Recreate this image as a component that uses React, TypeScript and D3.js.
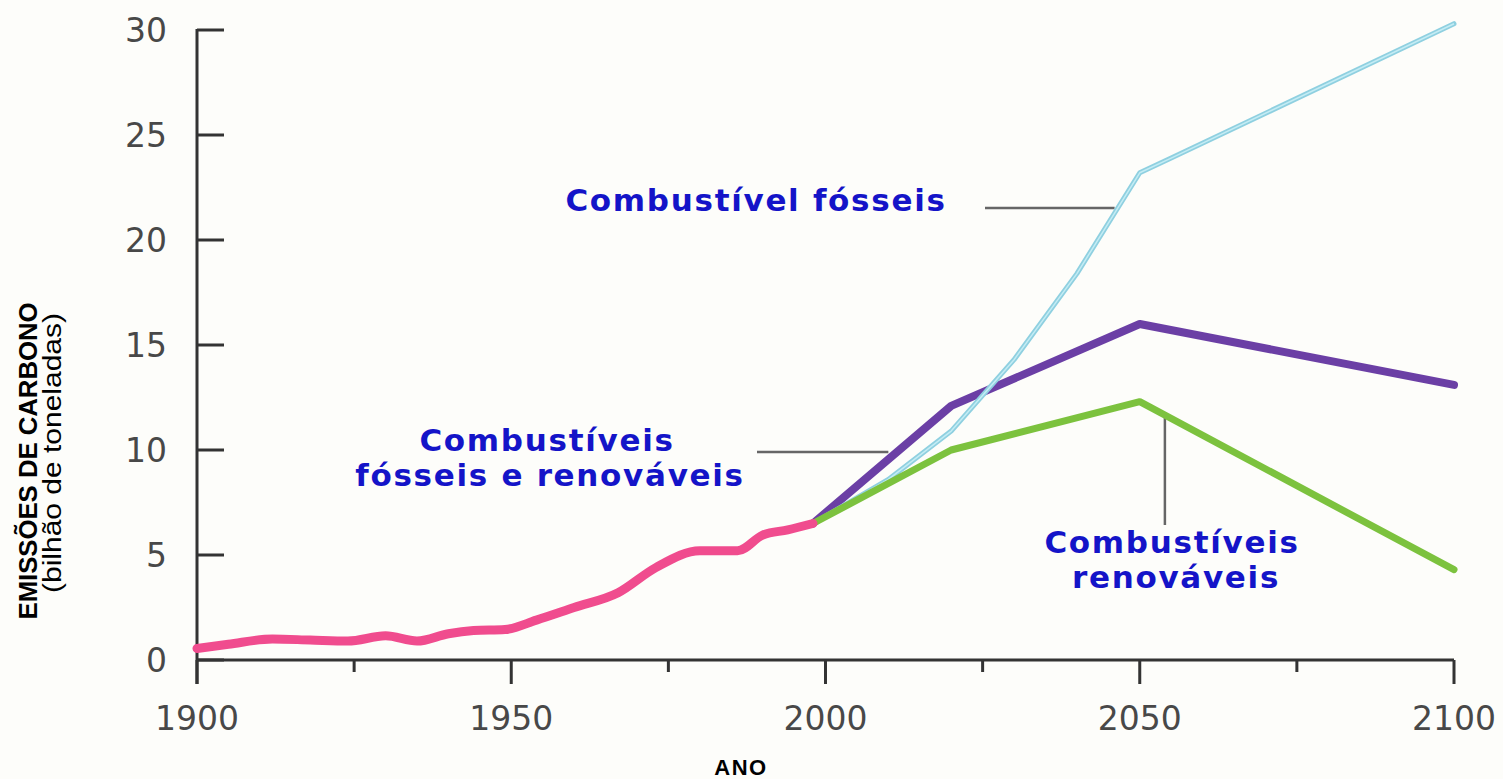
import { scaleLinear, line, curveMonotoneX, curveLinear } from 'd3';

// historical emissions (pink)
const histYears = [1900, 1905, 1912, 1918, 1924, 1930, 1935, 1940, 1944, 1949, 1954, 1960, 1967, 1973, 1980, 1986, 1990, 1994, 1998];
const histValues = [0.55, 0.75, 1.0, 0.95, 0.9, 1.15, 0.9, 1.25, 1.4, 1.45, 1.9, 2.5, 3.2, 4.4, 5.2, 5.2, 5.95, 6.2, 6.5];

// projections
const fossilYears = [1998, 2010, 2020, 2030, 2040, 2050, 2055, 2100];
const fossilValues = [6.5, 8.6, 10.9, 14.3, 18.4, 23.2, 23.9, 30.3];

const mixedYears = [1998, 2020, 2050, 2100];
const mixedValues = [6.5, 12.1, 16.0, 13.1];

const renewYears = [1998, 2020, 2050, 2100];
const renewValues = [6.5, 10.0, 12.3, 4.3];

const xTicks = [1900, 1925, 1950, 1975, 2000, 2025, 2050, 2075, 2100];
const xLabels = ['1900', '1950', '2000', '2050', '2100'];
const yTicks = [0, 5, 10, 15, 20, 25, 30];

const W = 1503;
const H = 779;

const x = scaleLinear().domain([1900, 2100]).range([197, 1454]);
const y = scaleLinear().domain([0, 30]).range([660, 30]);

const pts = (ys: number[], vs: number[]) => ys.map((yr, i) => [yr, vs[i]] as [number, number]);

const path = line<[number, number]>()
  .x(d => x(d[0]))
  .y(d => y(d[1]))
  .curve(curveLinear);

const smooth = line<[number, number]>()
  .x(d => x(d[0]))
  .y(d => y(d[1]))
  .curve(curveMonotoneX);

const tickFont = 'DejaVu Sans, Verdana, sans-serif';
const labelColor = '#1414c8';
const arial = 'Liberation Sans, Arial, sans-serif';

export default function App() {
  return (
    <svg width={W} height={H} style={{ position: 'absolute', left: 0, top: 0, background: '#fdfdfa' }}>
      {/* y axis */}
      <line x1={x(1900)} x2={x(1900)} y1={y(30) - 1} y2={y(0) + 24} stroke="#333" strokeWidth={3} />
      {yTicks.map(t => (
        <g key={t}>
          <line x1={x(1900)} x2={x(1900) + 27} y1={y(t)} y2={y(t)} stroke="#333" strokeWidth={3} />
          <text x={167} y={y(t)} textAnchor="end" dominantBaseline="central" fontFamily={tickFont} fontSize={33} fill="#484848">{t}</text>
        </g>
      ))}

      {/* x axis */}
      <line x1={x(1900)} x2={x(2100)} y1={y(0)} y2={y(0)} stroke="#333" strokeWidth={3} />
      {xTicks.map(t => (
        <line key={t} x1={x(t)} x2={x(t)} y1={y(0)} y2={y(0) + (t % 50 === 0 ? 24 : 12)} stroke="#333" strokeWidth={3} />
      ))}
      {xLabels.map(t => (
        <text key={t} x={x(+t)} y={730} textAnchor="middle" fontFamily={tickFont} fontSize={33} fill="#484848">{t}</text>
      ))}

      {/* axis titles */}
      <text x={741} y={775} textAnchor="middle" fontFamily={arial} fontWeight="bold" fontSize={22} letterSpacing={1.5} fill="#000">ANO</text>
      <g transform="translate(37,461) rotate(-90)">
        <text x={0} y={0} textAnchor="middle" fontFamily={arial} fontWeight="bold" fontSize={25} textLength={317} lengthAdjust="spacingAndGlyphs" fill="#000">EMISSÕES DE CARBONO</text>
        <text x={8} y={24} textAnchor="middle" fontFamily={arial} fontSize={25} textLength={280} lengthAdjust="spacingAndGlyphs" fill="#000">(bilhão de toneladas)</text>
      </g>

      {/* leader lines */}
      <line x1={985} x2={x(2046)} y1={208} y2={208} stroke="#666" strokeWidth={2.5} />
      <line x1={757} x2={x(2010)} y1={452} y2={452} stroke="#666" strokeWidth={2.5} />
      <line x1={x(2054)} x2={x(2054)} y1={y(11.8)} y2={525} stroke="#666" strokeWidth={2.5} />

      {/* series */}
      <path d={path(pts(mixedYears, mixedValues)) ?? ''} fill="none" stroke="#6b3fa5" strokeWidth={8} strokeLinejoin="round" strokeLinecap="round" />
      <path d={path(pts(fossilYears, fossilValues)) ?? ''} fill="none" stroke="#8fd0e0" strokeWidth={5} strokeLinejoin="round" strokeLinecap="round" />
      <path d={path(pts(fossilYears, fossilValues)) ?? ''} fill="none" stroke="#c4ecf4" strokeWidth={1.5} strokeLinejoin="round" />
      <path d={path(pts(renewYears, renewValues)) ?? ''} fill="none" stroke="#7cc23e" strokeWidth={7} strokeLinejoin="round" strokeLinecap="round" />
      <path d={smooth(pts(histYears, histValues)) ?? ''} fill="none" stroke="#f04c8e" strokeWidth={9} strokeLinejoin="round" strokeLinecap="round" />

      {/* series labels */}
      <g fontFamily="DejaVu Sans, Verdana, sans-serif" fontWeight="bold" fontSize={31} letterSpacing={1.7} fill={labelColor}>
        <text x={756} y={211} textAnchor="middle">Combustível fósseis</text>
        <text x={547} y={451} textAnchor="middle">Combustíveis</text>
        <text x={550} y={486} textAnchor="middle">fósseis e renováveis</text>
        <text x={1172} y={553} textAnchor="middle">Combustíveis</text>
        <text x={1176} y={588} textAnchor="middle">renováveis</text>
      </g>
    </svg>
  );
}
